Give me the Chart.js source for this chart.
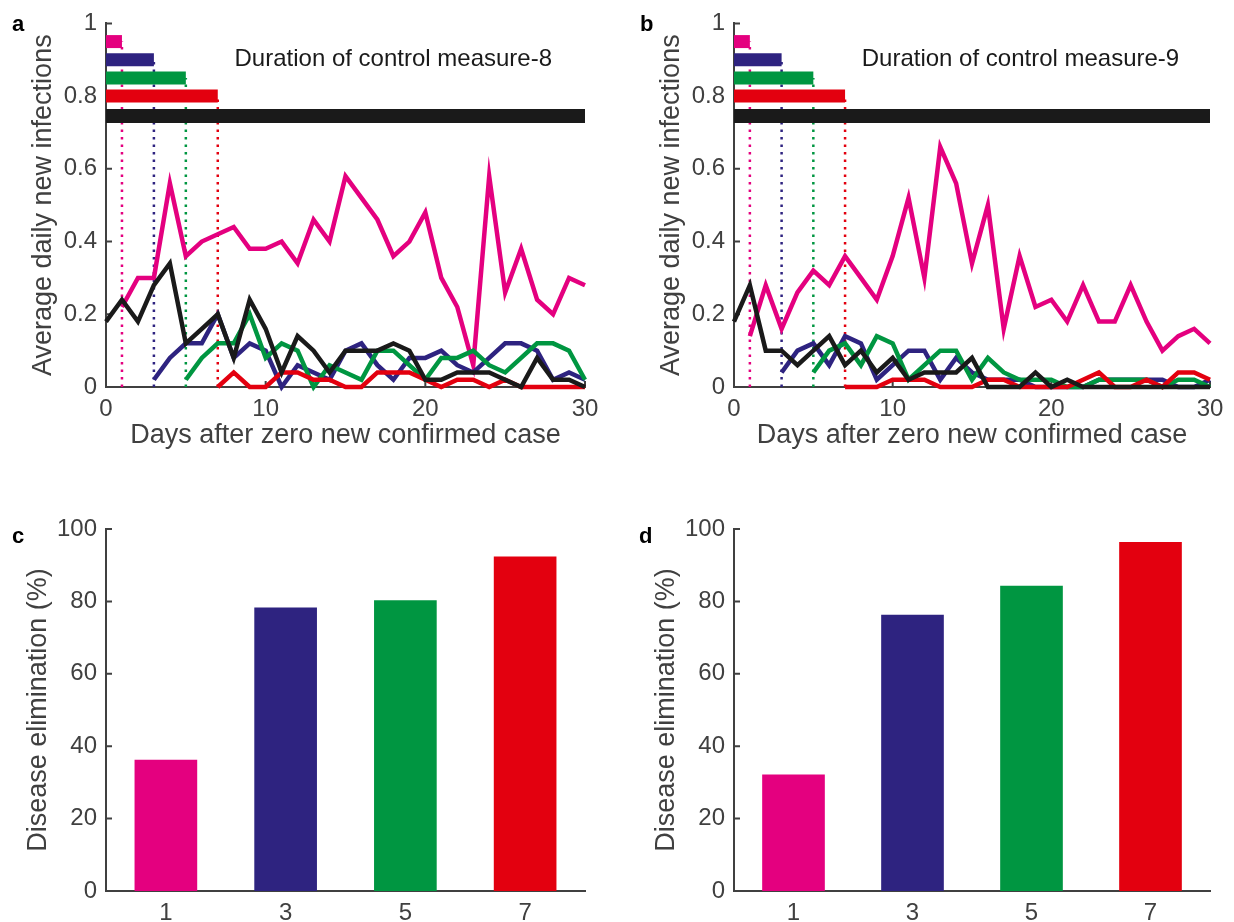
<!DOCTYPE html>
<html>
<head>
<meta charset="utf-8">
<script src="https://cdn.jsdelivr.net/npm/chart.js@4.4.0/dist/chart.umd.min.js"></script>
<style>
  body { margin: 0; background: #fff; width: 1234px; height: 922px; position: relative; overflow: hidden; }
  canvas { position: absolute; }
  .panel { position: absolute; font-family: "Liberation Sans", Arial, sans-serif; font-weight: bold; font-size: 22px; line-height: 22px; color: #000; }
</style>
</head>
<body>
<canvas id="chartA" width="617" height="461" style="left:0;top:0"></canvas>
<canvas id="chartB" width="606" height="461" style="left:628px;top:0"></canvas>
<canvas id="chartC" width="617" height="461" style="left:0;top:461px"></canvas>
<canvas id="chartD" width="606" height="461" style="left:628px;top:461px"></canvas>
<div class="panel" style="left:12px;top:13px">a</div>
<div class="panel" style="left:640px;top:13px">b</div>
<div class="panel" style="left:12px;top:525px">c</div>
<div class="panel" style="left:639px;top:525px">d</div>
<script>
// control measure durations (days) and colours
var durations = [1, 3, 5, 7];
var durationLevels = [0.95, 0.90, 0.85, 0.80];
var fullLevel = 0.745;
var fullDuration = 30;
var colors = ['#E4007F', '#2E2380', '#009641', '#E3000F'];
var black = '#1A1A1A';
var axisColor = '#404040';

// panel a: measure-8, values start at day = duration (black from day 0)
var pinkA = [0.22, 0.30, 0.30, 0.56, 0.36, 0.40, 0.42, 0.44, 0.38, 0.38, 0.40, 0.34, 0.46, 0.40, 0.58,
             0.52, 0.46, 0.36, 0.40, 0.48, 0.30, 0.22, 0.06, 0.58, 0.26, 0.38, 0.24, 0.20, 0.30, 0.28];
var navyA = [0.02, 0.08, 0.12, 0.12, 0.20, 0.08, 0.12, 0.10, 0.00, 0.06, 0.04, 0.02, 0.10, 0.12,
             0.06, 0.02, 0.08, 0.08, 0.10, 0.06, 0.04, 0.08, 0.12, 0.12, 0.10, 0.02, 0.04, 0.02];
var greenA = [0.02, 0.08, 0.12, 0.12, 0.20, 0.08, 0.12, 0.10, 0.00, 0.06, 0.04, 0.02, 0.10,
              0.10, 0.06, 0.02, 0.08, 0.08, 0.10, 0.06, 0.04, 0.08, 0.12, 0.12, 0.10, 0.02];
var redA = [0.00, 0.04, 0.00, 0.00, 0.04, 0.04, 0.02, 0.02, 0.00, 0.00, 0.04, 0.04,
            0.04, 0.02, 0.00, 0.02, 0.02, 0.00, 0.02, 0.00, 0.00, 0.00, 0.00, 0.00];
var blackA = [0.18, 0.24, 0.18, 0.28, 0.34, 0.12, 0.16, 0.20, 0.08, 0.24, 0.16, 0.04, 0.14, 0.10, 0.04, 0.10,
              0.10, 0.10, 0.12, 0.10, 0.02, 0.02, 0.04, 0.04, 0.04, 0.02, 0.00, 0.08, 0.02, 0.02, 0.00];

// panel b: measure-9
var pinkB = [0.14, 0.28, 0.16, 0.26, 0.32, 0.28, 0.36, 0.30, 0.24, 0.36, 0.52, 0.30, 0.66, 0.56, 0.34,
             0.50, 0.16, 0.36, 0.22, 0.24, 0.18, 0.28, 0.18, 0.18, 0.28, 0.18, 0.10, 0.14, 0.16, 0.12];
var navyB = [0.04, 0.10, 0.12, 0.06, 0.14, 0.12, 0.02, 0.06, 0.10, 0.10, 0.02, 0.08, 0.04, 0.02,
             0.02, 0.02, 0.00, 0.00, 0.00, 0.00, 0.02, 0.02, 0.02, 0.02, 0.02, 0.00, 0.00, 0.02];
var greenB = [0.04, 0.10, 0.12, 0.06, 0.14, 0.12, 0.02, 0.06, 0.10, 0.10, 0.02, 0.08, 0.04,
              0.02, 0.02, 0.02, 0.00, 0.00, 0.02, 0.02, 0.02, 0.02, 0.00, 0.02, 0.02, 0.00];
var redB = [0.00, 0.00, 0.00, 0.02, 0.02, 0.02, 0.00, 0.00, 0.00, 0.02, 0.02, 0.00,
            0.00, 0.00, 0.00, 0.02, 0.04, 0.00, 0.00, 0.02, 0.00, 0.04, 0.04, 0.02];
var blackB = [0.18, 0.28, 0.10, 0.10, 0.06, 0.10, 0.14, 0.06, 0.10, 0.04, 0.08, 0.02, 0.04, 0.04, 0.04, 0.08,
              0.00, 0.00, 0.00, 0.04, 0.00, 0.02, 0.00, 0.00, 0.00, 0.00, 0.00, 0.00, 0.00, 0.00, 0.00];

// panels c, d: disease elimination (%)
var barDurations = [1, 3, 5, 7];
var elimC = [36.2, 78.2, 80.2, 92.3];
var elimD = [32.1, 76.2, 84.2, 96.3];

var fontFamily = '"Liberation Sans", Arial, sans-serif';
Chart.defaults.font.family = fontFamily;

// MATLAB-style ticks pointing into the plot
var inTicks = {
    id: 'inTicks',
    beforeDatasetsDraw: function(chart, args, opts) {
        var ctx = chart.ctx, a = chart.chartArea;
        ctx.save();
        ctx.strokeStyle = axisColor;
        ctx.lineWidth = 2;
        ctx.beginPath();
        if (opts.x) {
            chart.scales.x.ticks.forEach(function(t) {
                var px = chart.scales.x.getPixelForValue(t.value);
                ctx.moveTo(px, a.bottom);
                ctx.lineTo(px, a.bottom - 6);
            });
        }
        chart.scales.y.ticks.forEach(function(t) {
            var py = chart.scales.y.getPixelForValue(t.value);
            ctx.moveTo(a.left, py);
            ctx.lineTo(a.left + 6, py);
        });
        ctx.stroke();
        ctx.restore();
    }
};

var noteText = {
    id: 'noteText',
    afterDatasetsDraw: function(chart, args, opts) {
        if (!opts.text) return;
        var ctx = chart.ctx;
        ctx.save();
        ctx.font = '24px ' + fontFamily;
        ctx.fillStyle = '#1A1A1A';
        ctx.textAlign = 'left';
        ctx.textBaseline = 'middle';
        ctx.fillText(opts.text, chart.scales.x.getPixelForValue(opts.x), chart.scales.y.getPixelForValue(opts.y));
        ctx.restore();
    }
};

function seriesData(start, vals) {
    return vals.map(function(v, i) { return {x: start + i, y: v}; });
}

function lineDataset(data, color, width, order, dash) {
    return {
        data: data,
        borderColor: color,
        backgroundColor: color,
        borderWidth: width,
        borderDash: dash || [],
        borderCapStyle: 'butt',
        pointRadius: 0,
        tension: 0,
        clip: false,
        order: order
    };
}

function loadLineChart(id, series, padRight, note) {
    var datasets = [];
    durations.forEach(function(d, i) {
        datasets.push(lineDataset([{x: d, y: 0}, {x: d, y: durationLevels[i]}], colors[i], 2.5, 7, [2.5, 5]));
        datasets.push(lineDataset([{x: 0, y: durationLevels[i]}, {x: d, y: durationLevels[i]}], colors[i], 13, 6));
    });
    datasets.push(lineDataset([{x: 0, y: fullLevel}, {x: fullDuration, y: fullLevel}], black, 14, 6));
    datasets.push(lineDataset(seriesData(1, series[0]), colors[0], 4.5, 5));
    datasets.push(lineDataset(seriesData(3, series[1]), colors[1], 4.5, 4));
    datasets.push(lineDataset(seriesData(5, series[2]), colors[2], 4.5, 3));
    datasets.push(lineDataset(seriesData(7, series[3]), colors[3], 4.5, 2));
    datasets.push(lineDataset(seriesData(0, series[4]), black, 4.5, 1));

    var ctx = document.getElementById(id).getContext('2d');
    return new Chart(ctx, {
        type: 'line',
        data: {datasets: datasets},
        plugins: [inTicks, noteText],
        options: {
            responsive: false,
            animation: false,
            devicePixelRatio: 1,
            layout: {padding: {left: 0, top: 21, right: padRight, bottom: 0}},
            plugins: {
                legend: {display: false},
                tooltip: {enabled: false},
                inTicks: {x: true},
                noteText: {text: note, x: 8.05, y: 0.9}
            },
            scales: {
                x: {
                    type: 'linear', min: 0, max: 30,
                    grid: {display: false, drawTicks: false},
                    border: {color: axisColor, width: 2},
                    ticks: {stepSize: 10, color: axisColor, font: {size: 24}, padding: 8, maxRotation: 0},
                    title: {display: true, text: 'Days after zero new confirmed case', color: axisColor,
                            font: {size: 27}, padding: {top: 0, bottom: 9}},
                    afterFit: function(s) { s.height = 74; }
                },
                y: {
                    type: 'linear', min: 0, max: 1,
                    grid: {display: false, drawTicks: false},
                    border: {color: axisColor, width: 2},
                    ticks: {stepSize: 0.2, color: axisColor, font: {size: 24}, padding: 9,
                            callback: function(v) { return String(Math.round(v * 10) / 10); }},
                    title: {display: true, text: 'Average daily new infections', color: axisColor,
                            font: {size: 27}, padding: {top: 27, bottom: 0}},
                    afterFit: function(s) { s.width = 106; }
                }
            }
        }
    });
}

function loadBarChart(id, values, padRight) {
    var ctx = document.getElementById(id).getContext('2d');
    return new Chart(ctx, {
        type: 'bar',
        data: {
            datasets: [{
                data: barDurations.map(function(d, i) { return {x: d, y: values[i]}; }),
                backgroundColor: colors,
                borderWidth: 0,
                barThickness: 62
            }]
        },
        plugins: [inTicks],
        options: {
            responsive: false,
            animation: false,
            devicePixelRatio: 1,
            layout: {padding: {left: 0, top: 68, right: padRight, bottom: 0}},
            plugins: {legend: {display: false}, tooltip: {enabled: false}, inTicks: {x: false}},
            scales: {
                x: {
                    type: 'linear', min: 0, max: 8, offset: false,
                    grid: {display: false, drawTicks: false, offset: false},
                    border: {color: axisColor, width: 2},
                    ticks: {color: axisColor, font: {size: 24}, padding: 8, maxRotation: 0},
                    afterBuildTicks: function(s) { s.ticks = barDurations.map(function(v) { return {value: v}; }); },
                    afterFit: function(s) { s.height = 31; }
                },
                y: {
                    type: 'linear', min: 0, max: 100,
                    grid: {display: false, drawTicks: false},
                    border: {color: axisColor, width: 2},
                    ticks: {stepSize: 20, color: axisColor, font: {size: 24}, padding: 9},
                    title: {display: true, text: 'Disease elimination (%)', color: axisColor,
                            font: {size: 27}, padding: {top: 22, bottom: 0}},
                    afterFit: function(s) { s.width = 106; }
                }
            }
        }
    });
}

loadLineChart('chartA', [pinkA, navyA, greenA, redA, blackA], 32, 'Duration of control measure-8');
loadLineChart('chartB', [pinkB, navyB, greenB, redB, blackB], 24, 'Duration of control measure-9');
loadBarChart('chartC', elimC, 32);
loadBarChart('chartD', elimD, 24);
</script>
</body>
</html>
